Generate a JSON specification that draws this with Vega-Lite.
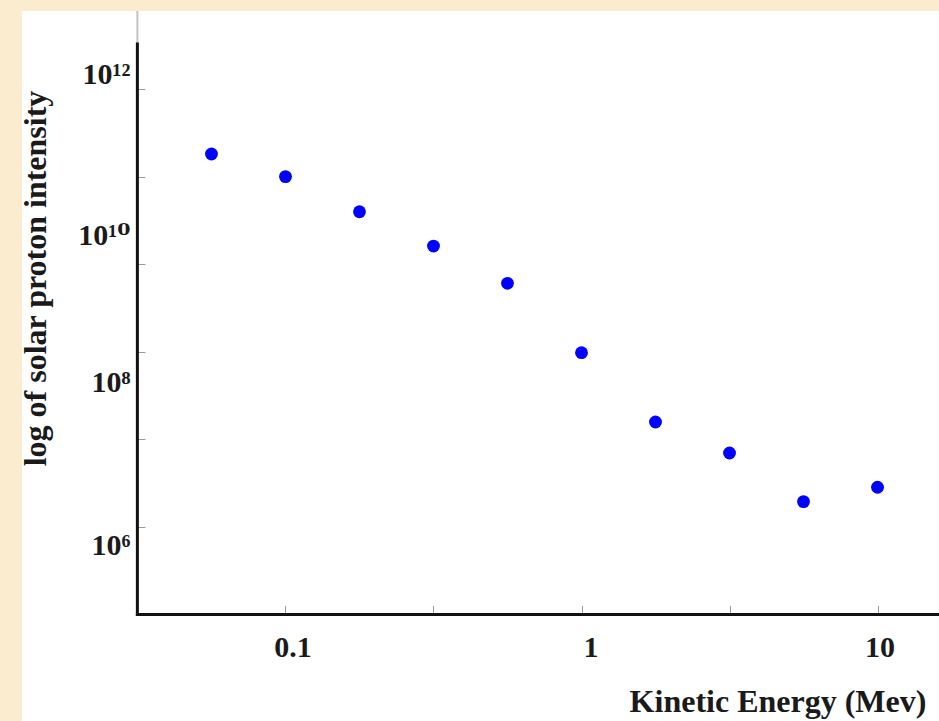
{
  "$schema": "https://vega.github.io/schema/vega-lite/v6.json",
  "autosize": {"type": "none"},
  "padding": {"left": 22, "top": 11, "right": 0, "bottom": 0},
  "width": 917,
  "height": 710,
  "background": "#fbecd0",
  "config": {"view": {"fill": "white", "stroke": null}},
  "layer": [
    {
      "data": {"values": [
        {"energy": 0.05623, "intensity": 1.81e11},
        {"energy": 0.1, "intensity": 1.0e11},
        {"energy": 0.1778, "intensity": 3.97e10},
        {"energy": 0.3162, "intensity": 1.61e10},
        {"energy": 0.5623, "intensity": 6.05e9},
        {"energy": 1.0, "intensity": 9.77e8},
        {"energy": 1.778, "intensity": 1.58e8},
        {"energy": 3.162, "intensity": 7.0e7},
        {"energy": 5.623, "intensity": 1.95e7},
        {"energy": 10.0, "intensity": 2.84e7}
      ]},
      "mark": {"type": "circle", "color": "#0000ff", "opacity": 1, "size": 165},
      "encoding": {
        "x": {
          "field": "energy", "type": "quantitative",
          "scale": {"type": "log", "domain": [0.01288, 16.13], "nice": false, "zero": false},
          "axis": {
            "orient": "bottom", "offset": -107.5,
            "values": [0.1, 0.316228, 1, 3.16228, 10],
            "domain": false, "grid": false,
            "tickSize": -8, "tickColor": "#9a9a9a", "tickWidth": 1,
            "labelExpr": "datum.value == 0.1 ? '0.1' : datum.value == 1 ? '1' : datum.value == 10 ? '10' : ''",
            "labelOffset": {"condition": [
              {"test": "datum.value == 0.1", "value": 7},
              {"test": "datum.value == 1", "value": 9},
              {"test": "datum.value == 10", "value": 2}
            ], "value": 0},
            "labelPadding": 27,
            "labelFont": "Liberation Serif", "labelFontSize": 30, "labelFontWeight": "bold", "labelColor": "#1a1a1a",
            "labelFlush": false, "labelOverlap": false, "labelBound": false,
            "title": "Kinetic Energy (Mev)",
            "titleFont": "Liberation Serif", "titleFontSize": 32, "titleFontWeight": "bold", "titleColor": "#1a1a1a",
            "titleX": 755.5, "titleY": 98.2, "titleAlign": "center", "titleBaseline": "alphabetic", "titleAngle": 0
          }
        },
        "y": {
          "field": "intensity", "type": "quantitative",
          "scale": {"type": "log", "domain": [61000, 7.77e12], "nice": false, "zero": false},
          "axis": {
            "orient": "left", "offset": -115,
            "values": [1e6, 1e7, 1e8, 1e9, 1e10, 1e11, 1e12],
            "domain": false, "grid": false,
            "tickSize": -8, "tickColor": "#9a9a9a", "tickWidth": 1,
            "labelExpr": "datum.value == 1e12 ? '10¹²' : datum.value == 1e10 ? '10¹⁰' : datum.value == 1e8 ? '10⁸' : datum.value == 1e6 ? '10⁶' : ''",
            "labelOffset": {"condition": [
              {"test": "datum.value == 1e12", "value": -15},
              {"test": "datum.value == 1e10", "value": -29},
              {"test": "datum.value == 1e8", "value": -57},
              {"test": "datum.value == 1e6", "value": -69}
            ], "value": 0},
            "labelPadding": 15,
            "labelFont": "'Liberation Serif', 'DejaVu Serif', serif", "labelFontSize": 30, "labelFontWeight": "bold", "labelColor": "#1a1a1a",
            "labelFlush": false, "labelOverlap": false, "labelBound": false,
            "title": "log of solar proton intensity",
            "titleFont": "Liberation Serif", "titleFontSize": 32, "titleFontWeight": "bold", "titleColor": "#1a1a1a",
            "titleX": -92, "titleY": 267, "titleAngle": -90, "titleAlign": "center", "titleBaseline": "alphabetic"
          }
        }
      }
    },
    {
      "data": {"values": [{}]},
      "mark": {"type": "rule", "color": "#c4c4c4", "strokeWidth": 2},
      "encoding": {
        "x": {"datum": 0.0316, "type": "quantitative"},
        "y": {"datum": 3.27e12, "type": "quantitative"},
        "y2": {"datum": 7.77e12}
      }
    },
    {
      "data": {"values": [{}]},
      "mark": {"type": "rule", "color": "#111111", "strokeWidth": 3, "strokeCap": "square"},
      "encoding": {
        "x": {"datum": 0.0316, "type": "quantitative"},
        "y": {"datum": 1e6, "type": "quantitative"},
        "y2": {"datum": 3.27e12}
      }
    },
    {
      "data": {"values": [{}]},
      "mark": {"type": "rule", "color": "#111111", "strokeWidth": 3, "strokeCap": "square"},
      "encoding": {
        "y": {"datum": 1e6, "type": "quantitative"},
        "x": {"datum": 0.0316, "type": "quantitative"},
        "x2": {"datum": 16.13}
      }
    }
  ]
}
